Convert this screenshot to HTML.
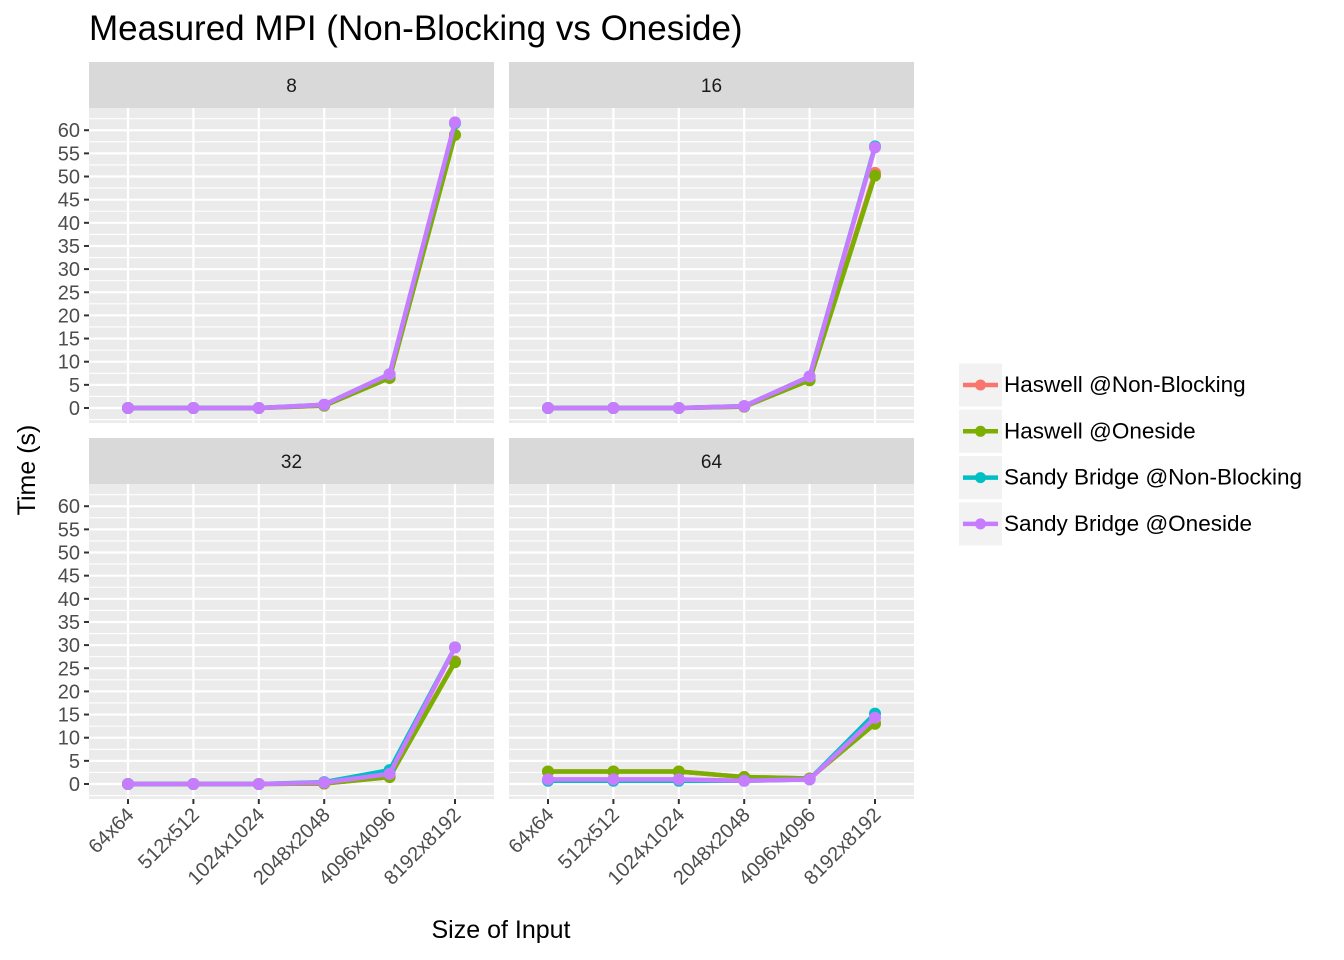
<!DOCTYPE html>
<html><head><meta charset="utf-8"><style>
html,body{margin:0;padding:0;background:#fff;}
svg{display:block;font-family:"Liberation Sans",sans-serif;}
</style></head><body>
<svg id="chart" width="1344" height="960" viewBox="0 0 1344 960" xmlns="http://www.w3.org/2000/svg">
<text x="89" y="40" font-size="35" fill="#000">Measured MPI (Non-Blocking vs Oneside)</text>
<text transform="translate(35,470) rotate(-90)" text-anchor="middle" font-size="25" fill="#000">Time (s)</text>
<text x="501" y="938" text-anchor="middle" font-size="25" fill="#000">Size of Input</text>
<g id="panels"></g>
<g id="legend"></g>
</svg>
<script>
const categories = ["64x64","512x512","1024x1024","2048x2048","4096x4096","8192x8192"];
const facets = ["8","16","32","64"];
const seriesNames = ["Haswell @Non-Blocking","Haswell @Oneside","Sandy Bridge @Non-Blocking","Sandy Bridge @Oneside"];
const colors = ["#F8766D","#7CAE00","#00BFC4","#C77CFF"];
const yTicks = [0,5,10,15,20,25,30,35,40,45,50,55,60];
const haswellNB = [[0,0,0,0.5,6.5,59],[0,0,0,0.3,6,50.8],[0,0,0,0.1,1.5,26.5],[2.7,2.7,2.7,1.5,1.2,13.2]];
const haswellOS = [[0,0,0,0.5,6.5,59],[0,0,0,0.3,6,50.2],[0,0,0,0.1,1.5,26.3],[2.7,2.7,2.7,1.5,1.2,13]];
const sandyNB = [[0,0,0,0.7,7.3,61.5],[0,0,0,0.4,6.8,56.5],[0,0,0,0.4,3,29.5],[0.7,0.7,0.7,0.7,1,15.2]];
const sandyOS = [[0,0,0,0.7,7.3,61.7],[0,0,0,0.4,6.8,56.3],[0,0,0,0.3,2.2,29.5],[1,1,1,0.7,1,14.3]];
const allSeries = [haswellNB, haswellOS, sandyNB, sandyOS];

const NS="http://www.w3.org/2000/svg";
function mk(tag, attrs, parent){const e=document.createElementNS(NS,tag);for(const k in attrs)e.setAttribute(k,attrs[k]);if(parent)parent.appendChild(e);return e;}
const panelsG=document.getElementById('panels');
const panelX=[89,509], panelW=405;
const rows=[{stripTop:62,top:108,bottom:423},{stripTop:438,top:484,bottom:799}];
const yMin=-3.24, yMax=64.8;
facets.forEach((f,fi)=>{
  const col=fi%2,row=Math.floor(fi/2);
  const x0=panelX[col], r=rows[row];
  const g=mk('g',{},panelsG);
  
  
  const xs=i=>x0+39+i*65.4;
  const ys=v=>r.bottom-(v-yMin)/(yMax-yMin)*(r.bottom-r.top);
  const strip=mk('rect',{x:x0,y:r.stripTop,width:panelW,height:r.top-r.stripTop,fill:'#d9d9d9'},g);
  
  
  const st=mk('text',{x:x0+panelW/2,y:r.stripTop+30,'text-anchor':'middle','font-size':19,fill:'#1a1a1a'},g);
  st.textContent=f;
  
  
  mk('rect',{x:x0,y:r.top,width:panelW,height:r.bottom-r.top,fill:'#ebebeb'},g);
  for(let v=-2.5;v<=yMax;v+=2.5){
    const y=ys(v); if(y<r.top||y>r.bottom)continue;
    const major=Math.abs(v%5)<1e-9;
    mk('line',{x1:x0,x2:x0+panelW,y1:y,y2:y,stroke:'#fff','stroke-width':major?2.2:1.1},g);
  }
  categories.forEach((c,i)=>{mk('line',{x1:xs(i),x2:xs(i),y1:r.top,y2:r.bottom,stroke:'#fff','stroke-width':2.2},g);});
  if(col===0){
    yTicks.forEach(t=>{
      const y=ys(t);
      mk('line',{x1:x0-5,x2:x0,y1:y,y2:y,stroke:'#333','stroke-width':2},g);
      const tt=mk('text',{x:x0-9,y:y+7,'text-anchor':'end','font-size':20,fill:'#4d4d4d'},g);
      tt.textContent=t;
      
      
    });
  }
  if(row===1){
    categories.forEach((c,i)=>{
      mk('line',{x1:xs(i),x2:xs(i),y1:r.bottom,y2:r.bottom+5,stroke:'#333','stroke-width':2},g);
      const tt=mk('text',{transform:`translate(${xs(i)+7},${r.bottom+17}) rotate(-45)`,'text-anchor':'end','font-size':20,fill:'#4d4d4d'},g);
      tt.textContent=c;
      
      
    });
  }
  allSeries.forEach((s,si)=>{
    const vals=s[fi];
    const pts=vals.map((v,i)=>xs(i)+','+ys(v)).join(' ');
    const pl=mk('polyline',{points:pts,fill:'none',stroke:colors[si],'stroke-width':4.5,'stroke-linejoin':'round'},g);
    
    
    vals.forEach((v,i)=>{
      const c=mk('circle',{cx:xs(i),cy:ys(v),r:6,fill:colors[si]},g);
      
      
    });
  });
});
const lg=document.getElementById('legend');
seriesNames.forEach((n,i)=>{
  const cy=385+i*46.3;
  const k=mk('rect',{x:959,y:cy-21.5,width:43,height:43,fill:'#f2f2f2'},lg);
  
  
  mk('line',{x1:963,x2:998,y1:cy,y2:cy,stroke:colors[i],'stroke-width':4.5},lg);
  mk('circle',{cx:980.5,cy:cy,r:5.5,fill:colors[i]},lg);
  const t=mk('text',{x:1004,y:cy+7,'font-size':22.5,fill:'#000'},lg);
  t.textContent=n;
  
  
});
</script>
</body></html>
